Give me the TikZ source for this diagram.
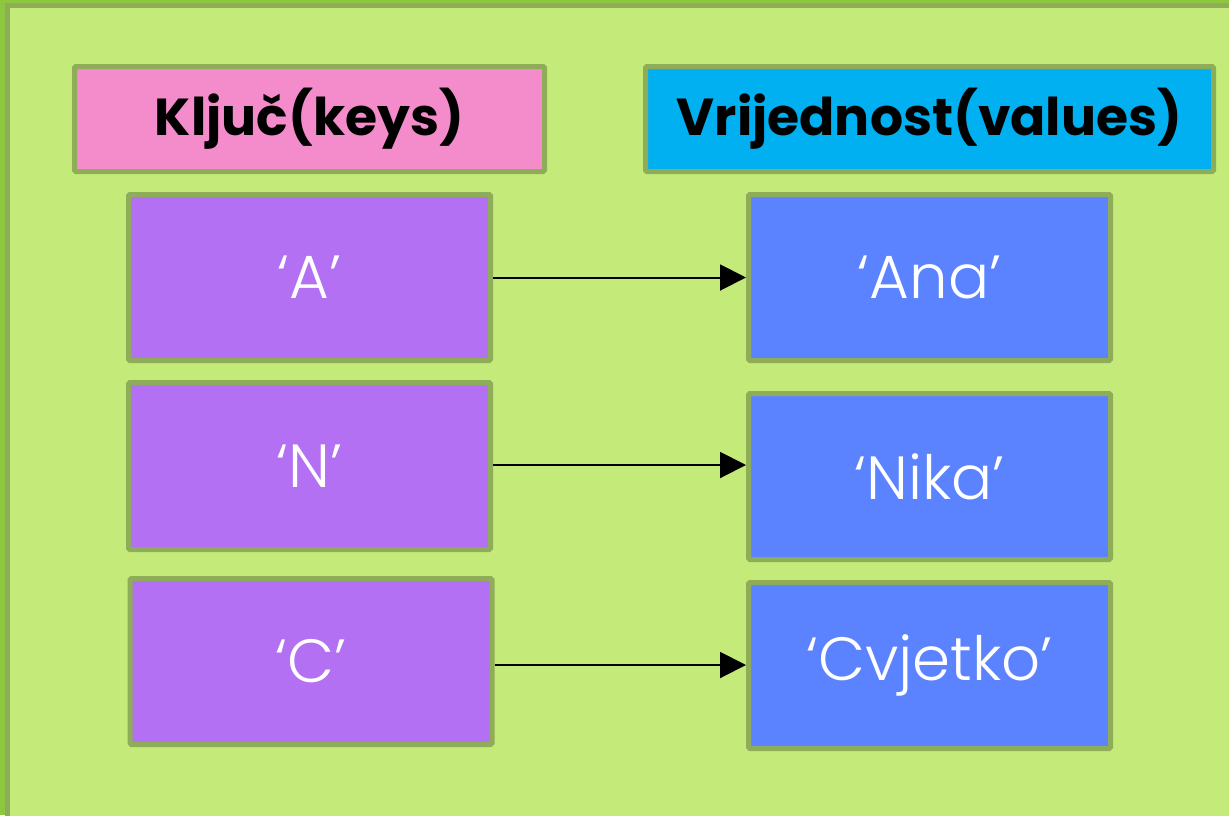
\documentclass[tikz,border=0pt]{standalone}
\usepackage{fontspec}
\setmainfont{Poppins}[UprightFont=* Light, BoldFont=* Bold]
\usetikzlibrary{arrows.meta}
\definecolor{outergreen}{RGB}{141,198,63}
\definecolor{bggreen}{RGB}{196,235,122}
\definecolor{olive}{RGB}{143,172,88}
\definecolor{keypink}{RGB}{244,139,203}
\definecolor{valcyan}{RGB}{0,176,240}
\definecolor{keypurple}{RGB}{179,112,243}
\definecolor{valblue}{RGB}{91,131,255}
\tikzset{
  box/.style={draw=olive, line width=5pt, rounded corners=1.5pt, inner sep=0pt},
  header/.style={box, text=black, font=\fontsize{52}{62}\selectfont\bfseries},
  item/.style={box, minimum width=362pt, minimum height=166pt, text=white, font=\fontsize{61}{72}\selectfont},
  keybox/.style={item, fill=keypurple},
  valbox/.style={item, fill=valblue},
  link/.style={line width=2pt, -{Triangle[length=26pt, width=26pt]}}
}
\begin{document}
\begin{tikzpicture}[x=1pt, y=-1pt]
\useasboundingbox (0,0) rectangle (1229,815);
\clip (0,0) rectangle (1229,815);
\fill[outergreen] (0,0) rectangle (1229,815);
\draw[olive, line width=5pt, fill=bggreen] (7,5.5) rectangle (1260,850);
\node[header, fill=keypink, minimum width=470pt, minimum height=105pt] (kh) at (309.5,119) {Ključ(keys)};
\node[header, fill=valcyan, minimum width=568pt, minimum height=105pt] (vh) at (929.5,119) {Vrijednost(values)};
\node[keybox] (ka) at (309.5,277.5) {‘A’};
\node[keybox, minimum height=167pt] (kn) at (309.5,466) {‘N’};
\node[keybox] (kc) at (311,661.5) {‘C’};
\node[valbox] (va) at (929.5,277.5) {‘Ana’};
\node[valbox] (vn) at (929.5,476.5) {‘Nika’};
\node[valbox] (vc) at (929.5,665.5) {‘Cvjetko’};
\draw[link] (ka.east) -- (ka.east -| va.west);
\draw[link] ([yshift=1pt]kn.east) -- ([yshift=1pt]kn.east -| vn.west);
\draw[link] ([yshift=-3.5pt]kc.east) -- ([yshift=-3.5pt]kc.east -| vc.west);
\end{tikzpicture}
\end{document}
